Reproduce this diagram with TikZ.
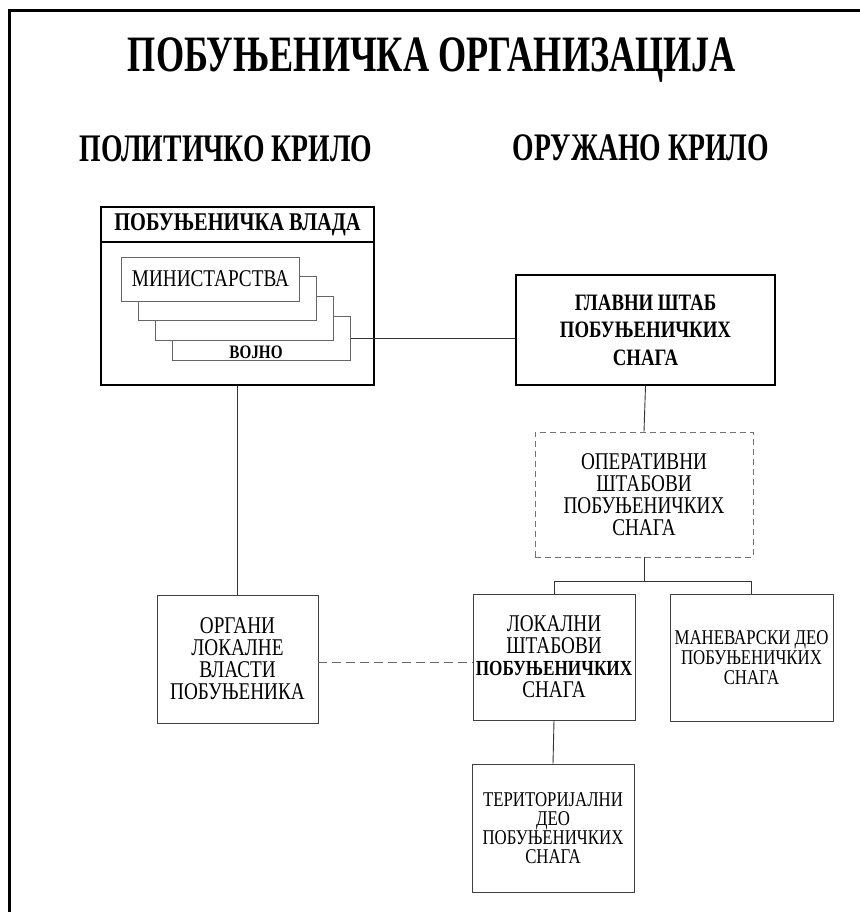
\documentclass[tikz,border=0pt]{standalone}
\usepackage{fontspec}
\setmainfont{Liberation Serif}
\newfontfamily\cond[FakeStretch=0.8]{Liberation Serif}
\newfontfamily\condhead[FakeStretch=0.71]{Liberation Serif}
\usetikzlibrary{positioning}

\tikzset{
  box/.style={draw=black!75, line width=0.9pt, fill=white, align=center, inner sep=0pt},
  mainbox/.style={box, draw=black, line width=1.8pt},
  stackbox/.style={box, draw=black!60, line width=0.8pt, minimum width=178, minimum height=44},
  dashbox/.style={box, draw=black!55, dash pattern=on 6pt off 4pt},
  link/.style={draw=black!80, line width=0.9pt},
  dashlink/.style={link, draw=black!60, dash pattern=on 9pt off 5pt},
}

\begin{document}
\begin{tikzpicture}[x=1pt, y=-1pt]
    \useasboundingbox (0,0) rectangle (859,912);
    % Okvir
    \draw[line width=3pt] (9,940) -- (9,11) -- (900,11);
    % Naslovi
    \node[anchor=base, font=\condhead\bfseries\fontsize{51}{60}\selectfont] (naslov) at (432,72) {ПОБУЊЕНИЧКА ОРГАНИЗАЦИЈА};
    \node[anchor=base, font=\condhead\bfseries\fontsize{39}{44}\selectfont] (politicko) at (226,162) {ПОЛИТИЧКО КРИЛО};
    \node[anchor=base, font=\condhead\bfseries\fontsize{39}{44}\selectfont] (oruzano) at (641,161) {ОРУЖАНО КРИЛО};
    % Побуњеничка влада
    \node[mainbox, minimum width=273, minimum height=178] (vlada) at (237.5,296) {};
    \node[mainbox, anchor=north, minimum width=273, minimum height=35, font=\cond\bfseries\fontsize{25.5}{28}\selectfont] (vladanaslov) at (vlada.north) {ПОБУЊЕНИЧКА ВЛАДА};
    % Министарства (slozeno)
    \foreach \i in {3,2,1} {
        \node[stackbox] (min\i) at (210.5+17*\i,279+19.7*\i) {};
    }
    \node[stackbox, font=\cond\fontsize{24}{24}\selectfont] (min0) at (210.5,279) {МИНИСТАРСТВА};
    \node[anchor=base, font=\cond\bfseries\fontsize{19}{20}\selectfont] (vojno) at (256,358) {ВОЈНО};
    % Оружано крило
    \node[mainbox, minimum width=259, minimum height=110, font=\cond\bfseries\fontsize{23.5}{27.5}\selectfont] (glavni) at (645.5,330) {ГЛАВНИ ШТАБ\\ПОБУЊЕНИЧКИХ\\СНАГА};
    \node[dashbox, minimum width=218, minimum height=125, font=\cond\fontsize{24}{22}\selectfont] (oper) at (644,494.5) {ОПЕРАТИВНИ\\ШТАБОВИ\\ПОБУЊЕНИЧКИХ\\СНАГА};
    \node[box, minimum width=162, minimum height=126, font=\cond\fontsize{24}{22}\selectfont] (lokal) at (554,657) {ЛОКАЛНИ\\ШТАБОВИ\\{\bfseries\fontsize{21.5}{22}\selectfont ПОБУЊЕНИЧКИХ}\\СНАГА};
    \node[box, minimum width=163, minimum height=127, font=\cond\fontsize{21}{20}\selectfont] (manevar) at (751.5,658) {МАНЕВАРСКИ ДЕО\\ПОБУЊЕНИЧКИХ\\СНАГА};
    \node[box, minimum width=162, minimum height=128, font=\cond\fontsize{21}{19}\selectfont] (terit) at (553,828) {ТЕРИТОРИЈАЛНИ\\ДЕО\\ПОБУЊЕНИЧКИХ\\СНАГА};
    % Политичко крило
    \node[box, minimum width=161, minimum height=128, font=\cond\fontsize{24}{22}\selectfont] (organi) at (237.5,659) {ОРГАНИ\\ЛОКАЛНЕ\\ВЛАСТИ\\ПОБУЊЕНИКА};
    % Везе
    \draw[link] (min3.east) -- (min3.east -| glavni.west);
    \draw[link] (glavni.south) -- (oper.north);
    \draw[link] (oper.south) -- ++(0,25);
    \draw[link] (lokal.north) -- ++(0,-12) -| (manevar.north);
    \draw[link] (lokal.south) -- (terit.north);
    \draw[link] (vlada.south) -- (organi.north);
    \draw[dashlink] (organi.east |- 0,662) -- (lokal.west |- 0,662);
\end{tikzpicture}
\end{document}
